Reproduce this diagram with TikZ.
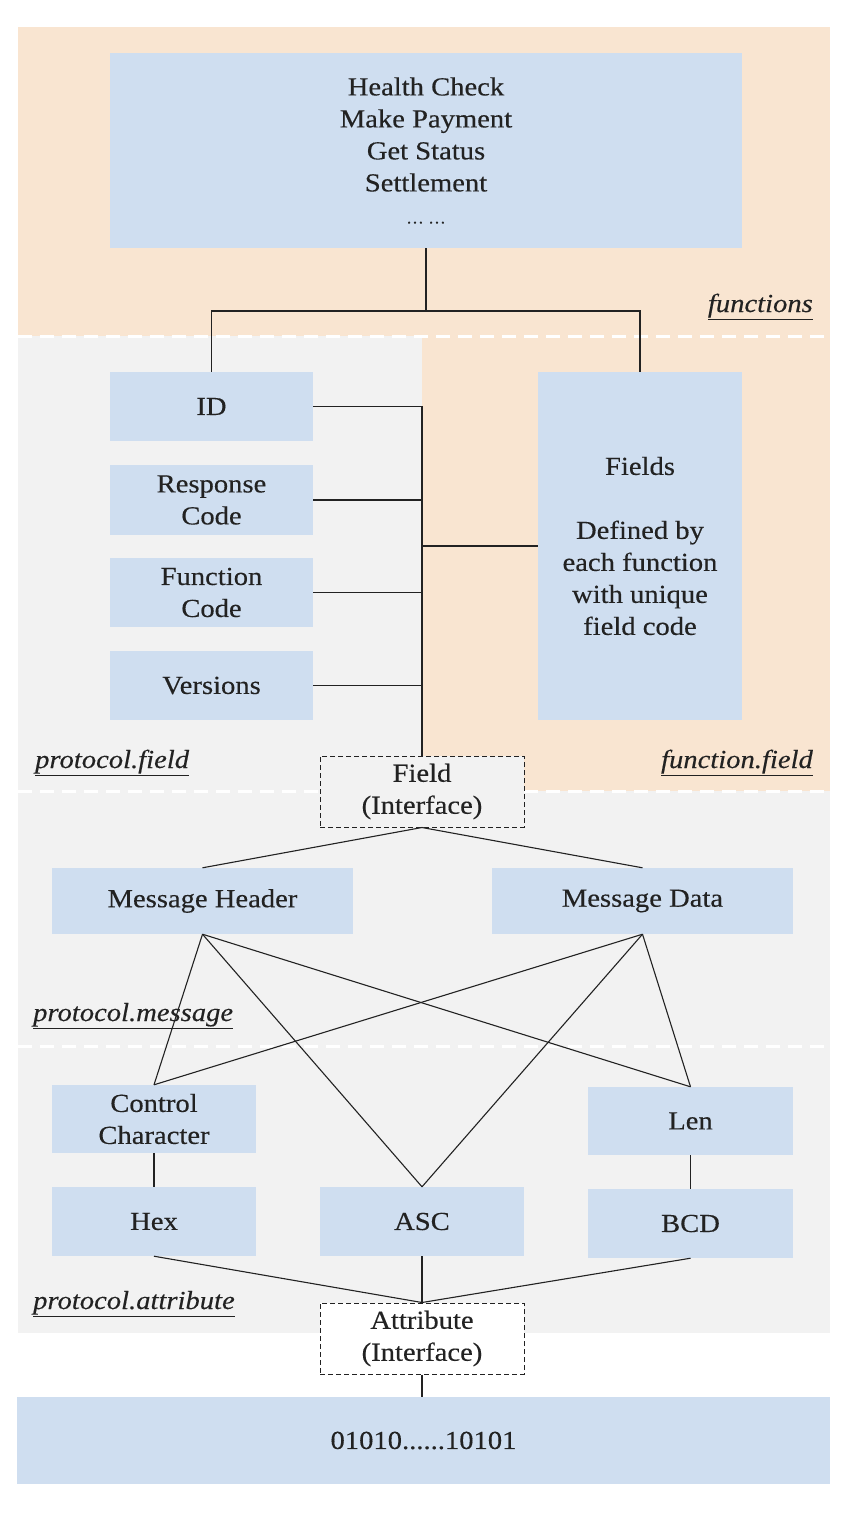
\documentclass[tikz,border=0pt]{standalone}
\usepackage{fontspec}
\setmainfont{Liberation Serif}[FakeStretch=1.1,FakeBold=0.3]
\definecolor{peach}{RGB}{249,229,209}
\definecolor{greybg}{RGB}{242,242,242}
\definecolor{boxblue}{RGB}{207,222,240}
\definecolor{ink}{RGB}{34,34,34}
\begin{document}
\begin{tikzpicture}[x=1pt,y=-1pt,
  bx/.style={fill=boxblue, draw=none, text=ink, align=center, inner sep=0pt, font=\fontsize{26}{32}\selectfont},
  iface/.style={fill=greybg, draw=ink, line width=1pt, dash pattern=on 5pt off 3pt, text=ink, align=center, inner sep=0pt, font=\fontsize{26}{32}\selectfont},
  conn/.style={draw=ink, line width=1.1pt},
  lbl/.style={text=ink, inner sep=0pt, font=\fontsize{26}{30}\selectfont\itshape},
  divider/.style={draw=white, line width=3pt, dash pattern=on 14pt off 8pt}]
\useasboundingbox (0,0) rectangle (846,1518);
\fill[white] (0,0) rectangle (846,1518);
% bands
\fill[peach] (18,27) rectangle (830,336);
\fill[peach] (422,336) rectangle (830,791);
\fill[greybg] (18,336) rectangle (422,791);
\fill[greybg] (18,791) rectangle (830,1333);
\draw[divider] (18,336) -- (830,336);
\draw[divider] (18,791) -- (830,791);
\draw[divider] (18,1046) -- (830,1046);
% boxes
\node[bx, minimum width=632pt, minimum height=195pt] (top) at (426,150.5)
  {Health Check\\Make Payment\\Get Status\\Settlement\\[0pt]{\fontsize{16}{18}\selectfont\dots\ \dots}};
\node[bx, minimum width=203pt, minimum height=69pt] (id) at (211.5,406.5) {ID};
\node[bx, minimum width=203pt, minimum height=70pt] (rc) at (211.5,500) {Response\\Code};
\node[bx, minimum width=203pt, minimum height=69pt] (fc) at (211.5,592.5) {Function\\Code};
\node[bx, minimum width=203pt, minimum height=69pt] (ver) at (211.5,685.5) {Versions};
\node[bx, minimum width=204pt, minimum height=348pt] (fields) at (640,546)
  {Fields\\[32pt]Defined by\\each function\\with unique\\field code};
\node[iface, minimum width=204pt, minimum height=71pt] (fieldif) at (422,791.5) {Field\\(Interface)};
\node[bx, minimum width=301pt, minimum height=66pt] (mh) at (202.5,901) {Message Header};
\node[bx, minimum width=301pt, minimum height=66pt] (md) at (642.5,901) {Message Data};
\node[bx, minimum width=204pt, minimum height=68pt] (cc) at (154,1119) {Control\\Character};
\node[bx, minimum width=204pt, minimum height=69pt] (hex) at (154,1221.5) {Hex};
\node[bx, minimum width=204pt, minimum height=69pt] (asc) at (422,1221.5) {ASC};
\node[bx, minimum width=205pt, minimum height=68pt] (len) at (690.5,1121) {Len};
\node[bx, minimum width=205pt, minimum height=69pt] (bcd) at (690.5,1223.5) {BCD};
\node[iface, fill=white, minimum width=204pt, minimum height=71pt] (attrif) at (422,1338.5) {Attribute\\(Interface)};
\node[bx, minimum width=813pt, minimum height=87pt] (bits) at (423.5,1440.5) {01010......10101};
% labels
\node[lbl, anchor=base east] (lfun) at (813,312) {\underline{functions}};
\node[lbl, anchor=base west] (lpf) at (35,768) {\underline{protocol.field}};
\node[lbl, anchor=base east] (lff) at (813,768) {\underline{function.field}};
\node[lbl, anchor=base west] (lpm) at (33,1021) {\underline{protocol.message}};
\node[lbl, anchor=base west] (lpa) at (33,1309) {\underline{protocol.attribute}};
% connectors
\coordinate (j1) at (426,311);
\draw[conn] (top.south) -- (j1);
\draw[conn] (id.north) -- (id.north |- j1) -- (fields.north |- j1) -- (fields.north);
\draw[conn] (id.east) -- (id.east -| fieldif.north) -- (fieldif.north);
\draw[conn] (rc.east) -- (rc.east -| fieldif.north);
\draw[conn] (fc.east) -- (fc.east -| fieldif.north);
\draw[conn] (ver.east) -- (ver.east -| fieldif.north);
\draw[conn] (fields.west) -- (fields.west -| fieldif.north);
\draw[conn] (fieldif.south) -- (mh.north);
\draw[conn] (fieldif.south) -- (md.north);
\draw[conn] (mh.south) -- (cc.north);
\draw[conn] (mh.south) -- (asc.north);
\draw[conn] (mh.south) -- (len.north);
\draw[conn] (md.south) -- (cc.north);
\draw[conn] (md.south) -- (asc.north);
\draw[conn] (md.south) -- (len.north);
\draw[conn] (cc) -- (hex);
\draw[conn] (len) -- (bcd);
\draw[conn] (hex.south) -- (attrif.north);
\draw[conn] (asc.south) -- (attrif.north);
\draw[conn] (bcd.south) -- (attrif.north);
\draw[conn] (attrif.south) -- (attrif.south |- bits.north);
\end{tikzpicture}
\end{document}
